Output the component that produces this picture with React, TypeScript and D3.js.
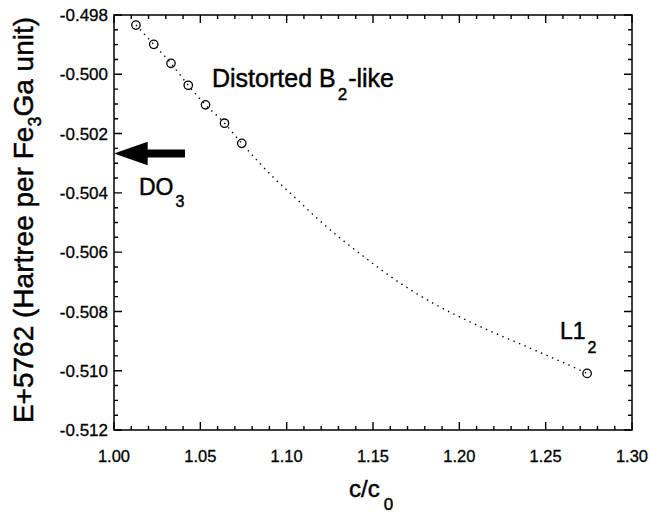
import React from "react";
import * as d3 from "d3";

const W = 649;
const H = 516;

// measured data points (c/c0, E+5762 in Hartree)
const pointX = [1.0127, 1.023, 1.033, 1.043, 1.053, 1.064, 1.074, 1.274];
const pointY = [-0.49834, -0.49899, -0.49963, -0.50037, -0.50103, -0.50165, -0.50233, -0.51009];

// dotted fitted curve
const curveX = [1.0127, 1.023, 1.033, 1.043, 1.053, 1.064, 1.074, 1.0913, 1.1058, 1.1174, 1.1442, 1.1656, 1.1847, 1.2072, 1.2427, 1.2699, 1.274];
const curveY = [-0.49834, -0.49899, -0.49963, -0.50037, -0.50103, -0.50165, -0.50233, -0.50342, -0.50421, -0.50485, -0.50613, -0.50704, -0.50772, -0.50838, -0.50928, -0.50998, -0.51009];

const xTicks = [1.0, 1.05, 1.1, 1.15, 1.2, 1.25, 1.3];
const yTicks = [-0.498, -0.5, -0.502, -0.504, -0.506, -0.508, -0.51, -0.512];

// DO3 reference energy (arrow)
const do3Energy = -0.50267;
const arrowX = [1.0, 1.0195, 1.0411];

const FONT = "Liberation Sans, Arial, Helvetica, sans-serif";

export default function App() {
  const left = 114, right = 632, top = 15, bottom = 430;
  const x = d3.scaleLinear().domain([1.0, 1.3]).range([left, right]);
  const y = d3.scaleLinear().domain([-0.498, -0.512]).range([top, bottom]);

  const xMinor = d3.range(0, 31).map((i) => 1.0 + i * 0.01);
  const yMinor = d3.range(0, 29).map((i) => -0.498 - i * 0.0005);
  const isMajorX = (v: number) => xTicks.some((t) => Math.abs(t - v) < 1e-6);
  const isMajorY = (v: number) => yTicks.some((t) => Math.abs(t - v) < 1e-7);

  let tickPath = "";
  xMinor.forEach((v) => {
    const L = isMajorX(v) ? 8 : 4;
    const px = x(v);
    tickPath += `M${px},${bottom}V${bottom - L}M${px},${top}V${top + L}`;
  });
  yMinor.forEach((v) => {
    const L = isMajorY(v) ? 8 : 4;
    const py = y(v);
    tickPath += `M${left},${py}H${left + L}M${right},${py}H${right - L}`;
  });

  const line = d3
    .line<number>()
    .x((_, i) => x(curveX[i]))
    .y((d) => y(d))
    .curve(d3.curveMonotoneX);

  const ay = y(do3Energy);
  const tipX = x(arrowX[0]);
  const headX = x(arrowX[1]);
  const tailX = x(arrowX[2]);

  const txt = { fill: "#000", stroke: "#000", strokeWidth: 0.45 };

  return (
    <svg
      width={W}
      height={H}
      style={{ position: "absolute", left: 0, top: 0, background: "#fff" }}
      fontFamily={FONT}
    >
      <rect x={0} y={0} width={W} height={H} fill="#fff" />
      {/* ticks */}
      <path d={tickPath} fill="none" stroke="#000" strokeWidth={1.4} />
      <rect x={left} y={top} width={right - left} height={bottom - top} fill="none" stroke="#000" strokeWidth={1.5} />

      {/* tick labels */}
      <g fontSize={17} {...txt} strokeWidth={0.3} textAnchor="end">
        {yTicks.map((v) => (
          <text key={"yl" + v} x={108} y={y(v)} dy="0.36em">
            {d3.format(".3f")(v).replace("−", "-")}
          </text>
        ))}
      </g>
      <g fontSize={16.5} {...txt} strokeWidth={0.3} textAnchor="middle">
        {xTicks.map((v) => (
          <text key={"xl" + v} x={x(v)} y={461.5}>
            {d3.format(".2f")(v)}
          </text>
        ))}
      </g>

      {/* fitted dotted curve */}
      <path
        d={line(curveY) || ""}
        fill="none"
        stroke="#000"
        strokeWidth={1.4}
        strokeDasharray="1.4 4.6"
      />
      {/* points */}
      {pointX.map((px, i) => (
        <circle key={"p" + i} cx={x(px)} cy={y(pointY[i])} r={4.2} fill="none" stroke="#000" strokeWidth={1.3} />
      ))}

      {/* arrow to DO3 energy */}
      <path
        d={`M${tipX},${ay} L${headX},${ay - 11.8} L${headX},${ay - 4} L${tailX},${ay - 4} L${tailX},${ay + 4} L${headX},${ay + 4} L${headX},${ay + 11.8} Z`}
        fill="#000"
      />

      {/* annotations */}
      <text x={212} y={87} fontSize={25} {...txt}>
        Distorted B
        <tspan fontSize={17} dy={13} dx={2}>2</tspan>
        <tspan dy={-13} dx={1}>-like</tspan>
      </text>
      <text x={139} y={195} fontSize={23} {...txt}>
        DO
        <tspan fontSize={16} dy={12} dx={2}>3</tspan>
      </text>
      <text x={560} y={339} fontSize={23} {...txt}>
        L1
        <tspan fontSize={16} dy={14} dx={2}>2</tspan>
      </text>
      <text x={349} y={497} fontSize={24} {...txt}>
        c/c
        <tspan fontSize={17} dy={13} dx={4}>0</tspan>
      </text>

      {/* y axis label */}
      <text transform="translate(33,220) rotate(-90)" textAnchor="middle" fontSize={28} {...txt}>
        E+5762 (Hartree per Fe
        <tspan fontSize={18} dy={8}>3</tspan>
        <tspan dy={-8}>Ga unit)</tspan>
      </text>
    </svg>
  );
}
